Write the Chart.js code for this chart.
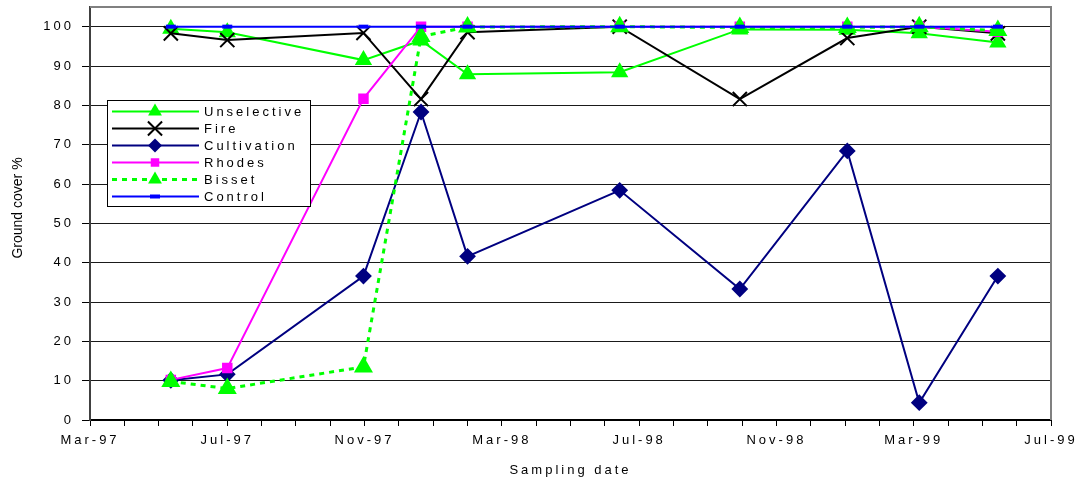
<!DOCTYPE html>
<html>
<head>
<meta charset="utf-8">
<script src="https://cdn.jsdelivr.net/npm/chart.js@4.4.0/dist/chart.umd.min.js"></script>
<style>
  html, body { margin: 0; padding: 0; background: #fff; }
  #wrap { width: 1075px; height: 481px; }
</style>
</head>
<body>
<div id="wrap"><canvas id="chart" width="1075" height="481"></canvas></div>
<script>
// sampling dates and ground cover (%) per treatment
const sampleDates = ['1997-05-12', '1997-07-01', '1997-10-31', '1997-12-21', '1998-02-01',
  '1998-06-14', '1998-09-29', '1999-01-03', '1999-03-06', '1999-05-15'];
const unselective = [99.5, 98.6, 91.5, 96.5, 87.9, 88.4, 99.3, 99.2, 98.3, 96.0];
const fire = [98.3, 96.6, 98.4, 81.6, 98.6, 100, 81.6, 97.1, 100, 98.3];
const cultivation = [10.1, 11.6, 36.6, 78.3, 41.6, 58.4, 33.3, 68.4, 4.4, 36.6];
const rhodes = [10.2, 13.2, 81.7, 100, 100, 100, 100, 100, 100, 98.7];
const bisset = [9.8, 8.0, 13.5, 97.5, 99.9, 100, 99.8, 99.8, 100, 99.0];
const control = [100, 100, 100, 100, 100, 100, 100, 100, 100, 100];

// x axis runs from Mar-97 (0) to Jul-99 (28), in months
const monthLabels = ['Mar-97', 'Jul-97', 'Nov-97', 'Mar-98', 'Jul-98', 'Nov-98', 'Mar-99', 'Jul-99'];

function monthIndex(s) {
  const [y, m, d] = s.split('-').map(Number);
  const days = new Date(y, m, 0).getDate();
  return (y - 1997) * 12 + (m - 3) + (d - 1) / days;
}

function points(values) {
  return values.map((v, i) => ({ x: monthIndex(sampleDates[i]), y: v }));
}

const FONT = 'Arial, "Liberation Sans", sans-serif';

const datasets = [
  { label: 'Unselective', data: points(unselective), borderColor: '#00ff00', backgroundColor: '#00ff00',
    pointStyle: 'triangle', pointRadius: 8, borderWidth: 2, order: 6 },
  { label: 'Fire', data: points(fire), borderColor: '#000000', backgroundColor: '#000000',
    pointStyle: 'crossRot', pointRadius: 10, borderWidth: 2, order: 5 },
  { label: 'Cultivation', data: points(cultivation), borderColor: '#000080', backgroundColor: '#000080',
    pointStyle: 'rectRot', pointRadius: 7, borderWidth: 2, order: 4 },
  { label: 'Rhodes', data: points(rhodes), borderColor: '#ff00ff', backgroundColor: '#ff00ff',
    pointStyle: 'rect', pointRadius: 6, borderWidth: 2, order: 3 },
  { label: 'Bisset', data: points(bisset), borderColor: '#00ff00', backgroundColor: '#00ff00',
    pointStyle: 'triangle', pointRadius: 8, borderWidth: 3, borderDash: [5, 5], order: 2 },
  { label: 'Control', data: points(control), borderColor: '#0000ff', backgroundColor: '#0000ff',
    pointStyle: 'line', pointRadius: 5, pointBorderWidth: 4, borderWidth: 2, order: 1 }
];

function drawMarker(ctx, ds, x, y) {
  const r = ds.pointRadius;
  ctx.save();
  ctx.fillStyle = ds.backgroundColor;
  ctx.strokeStyle = ds.borderColor;
  ctx.setLineDash([]);
  ctx.beginPath();
  if (ds.pointStyle === 'triangle') {
    ctx.moveTo(x, y - r);
    ctx.lineTo(x + r * 0.866, y + r * 0.5);
    ctx.lineTo(x - r * 0.866, y + r * 0.5);
    ctx.closePath();
    ctx.fill();
  } else if (ds.pointStyle === 'crossRot') {
    const o = r * 0.707;
    ctx.lineWidth = 2;
    ctx.moveTo(x - o, y - o); ctx.lineTo(x + o, y + o);
    ctx.moveTo(x - o, y + o); ctx.lineTo(x + o, y - o);
    ctx.stroke();
  } else if (ds.pointStyle === 'rectRot') {
    ctx.moveTo(x - r, y); ctx.lineTo(x, y - r); ctx.lineTo(x + r, y); ctx.lineTo(x, y + r);
    ctx.closePath();
    ctx.fill();
  } else if (ds.pointStyle === 'rect') {
    const h = r * 0.707;
    ctx.fillRect(x - h, y - h, 2 * h, 2 * h);
  } else if (ds.pointStyle === 'line') {
    ctx.lineWidth = ds.pointBorderWidth;
    ctx.moveTo(x - r, y); ctx.lineTo(x + r, y);
    ctx.stroke();
  }
  ctx.restore();
}

const excelLook = {
  id: 'excelLook',
  beforeUpdate(chart) { chart.ctx.letterSpacing = '3px'; },
  beforeDraw(chart) { chart.ctx.letterSpacing = '3px'; },
  beforeDatasetsDraw(chart) {
    const { ctx, chartArea: a } = chart;
    ctx.save();
    ctx.strokeStyle = '#808080';
    ctx.lineWidth = 2;
    ctx.beginPath();
    ctx.moveTo(a.left, a.top);
    ctx.lineTo(a.right, a.top);
    ctx.lineTo(a.right, a.bottom);
    ctx.stroke();
    ctx.restore();
  },
  afterDraw(chart) {
    const ctx = chart.ctx;
    // y axis title, no letter spacing
    ctx.save();
    ctx.letterSpacing = '0px';
    ctx.translate(18, 208);
    ctx.rotate(-Math.PI / 2);
    ctx.font = '14px ' + FONT;
    ctx.fillStyle = '#000';
    ctx.textAlign = 'center';
    ctx.textBaseline = 'middle';
    ctx.fillText('Ground cover %', 0, 0);
    ctx.restore();

    // legend box inside plot area
    ctx.save();
    ctx.fillStyle = '#fff';
    ctx.fillRect(107, 100, 204, 107);
    ctx.strokeStyle = '#000';
    ctx.lineWidth = 1;
    ctx.strokeRect(107.5, 100.5, 203, 106);
    ctx.font = '13px ' + FONT;
    ctx.textBaseline = 'middle';
    ctx.textAlign = 'left';
    ctx.letterSpacing = '3px';
    datasets.forEach((ds, i) => {
      const y = 111.5 + i * 17;
      ctx.save();
      ctx.strokeStyle = ds.borderColor;
      ctx.lineWidth = ds.borderWidth;
      ctx.setLineDash(ds.borderDash || []);
      ctx.beginPath();
      ctx.moveTo(112, y);
      ctx.lineTo(199, y);
      ctx.stroke();
      ctx.restore();
      drawMarker(ctx, ds, 155, y);
      ctx.fillStyle = '#000';
      ctx.fillText(ds.label, 204, y + 1);
    });
    ctx.restore();
  }
};

new Chart(document.getElementById('chart'), {
  type: 'line',
  data: { datasets: datasets },
  options: {
    responsive: false,
    animation: false,
    events: [],
    layout: { autoPadding: false, padding: { left: 0, top: 7, right: 24, bottom: 0 } },
    plugins: { legend: { display: false }, tooltip: { enabled: false } },
    elements: { line: { tension: 0 }, point: { borderWidth: 1 } },
    scales: {
      x: {
        type: 'linear',
        min: 0,
        max: 28,
        afterFit: s => { s.height = 61; s.paddingLeft = 0; s.paddingRight = 0; },
        border: { color: '#000', width: 2 },
        grid: { drawOnChartArea: false, tickLength: 6, color: '#000', tickWidth: 1 },
        ticks: {
          stepSize: 1,
          autoSkip: false,
          maxRotation: 0,
          padding: 7,
          color: '#000',
          font: { family: FONT, size: 13 },
          callback: v => (v % 4 === 0 ? monthLabels[v / 4] : '')
        },
        title: {
          display: true,
          text: 'Sampling date',
          color: '#000',
          font: { family: FONT, size: 13 },
          padding: { top: 0, bottom: 3 }
        }
      },
      y: {
        min: 0,
        max: 105,
        afterFit: s => { s.width = 90; s.paddingTop = 0; s.paddingBottom = 0; },
        afterBuildTicks: s => { s.ticks = s.ticks.filter(t => t.value <= 100); },
        border: { color: '#404040', width: 2 },
        grid: { color: '#1a1a1a', lineWidth: 1, tickLength: 8, tickColor: '#000' },
        ticks: {
          stepSize: 10,
          padding: 8,
          color: '#000',
          font: { family: FONT, size: 13 }
        }
      }
    }
  },
  plugins: [excelLook]
});
</script>
</body>
</html>
